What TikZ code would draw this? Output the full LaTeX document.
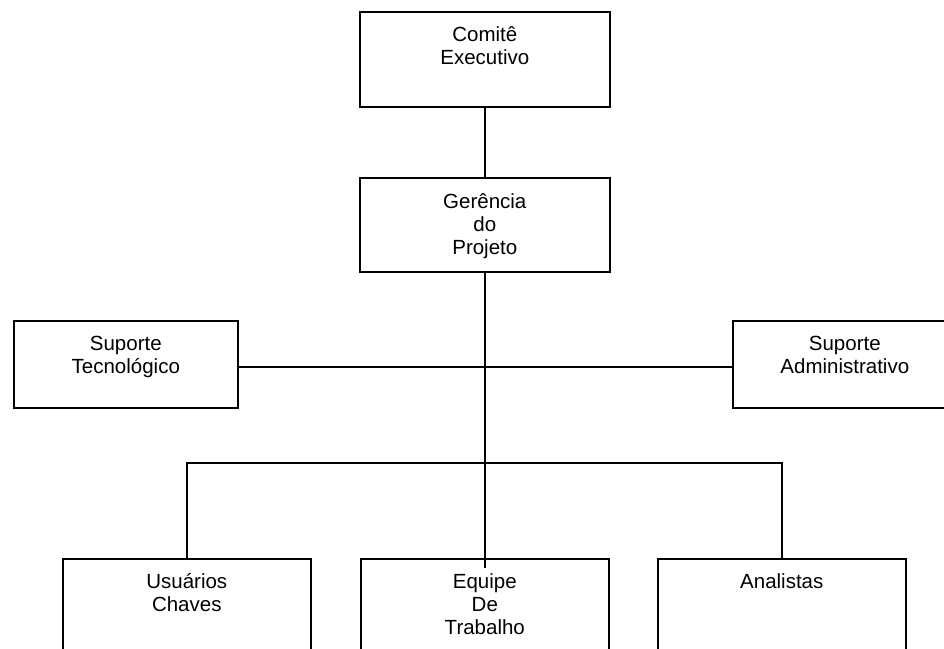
\documentclass[tikz,border=0pt]{standalone}
\usepackage{fontspec}
\setmainfont{Liberation Sans}
\begin{document}
\begin{tikzpicture}[x=1pt,y=-1pt,
  box/.style={draw=black,line width=1.6pt,inner sep=0pt,anchor=north west,rectangle},
  lbl/.style={align=center,anchor=base,inner sep=0pt,font=\fontsize{20.5}{23.3}\selectfont},
  conn/.style={draw=black,line width=1.6pt}]
\useasboundingbox (0,0) rectangle (944,648);
\clip (0,0) rectangle (944,648);
\node[box,minimum width=250pt,minimum height=95pt] (ce) at (359,11) {};
\node[box,minimum width=250pt,minimum height=94pt] (gp) at (359,177) {};
\node[box,minimum width=224pt,minimum height=87pt] (st) at (13,320) {};
\node[box,minimum width=224pt,minimum height=87pt] (sa) at (732,320) {};
\node[box,minimum width=248pt,minimum height=95pt] (uc) at (62,558) {};
\node[box,minimum width=248pt,minimum height=95pt] (et) at (360,558) {};
\node[box,minimum width=248pt,minimum height=95pt] (an) at (657,558) {};
\node[lbl] (tce) at ([yshift=-53.3pt]ce.north) {Comitê\\Executivo};
\node[lbl] (tgp) at ([yshift=-77.6pt]gp.north) {Gerência\\do\\Projeto};
\node[lbl] (tst) at ([yshift=-53.3pt]st.north) {Suporte\\Tecnológico};
\node[lbl] (tsa) at ([yshift=-53.3pt]sa.north) {Suporte\\Administrativo};
\node[lbl] (tuc) at ([yshift=-53.3pt]uc.north) {Usuários\\Chaves};
\node[lbl] (tet) at ([yshift=-76.6pt]et.north) {Equipe\\De\\Trabalho};
\node[lbl] (tan) at ([yshift=-30pt]an.north) {Analistas};
\coordinate (hy) at (0,367);
\coordinate (bus) at (484,463);
\draw[conn] (ce.south) -- (gp.north);
\draw[conn] (gp.south) -- ([yshift=-10pt]et.north);
\draw[conn] (st.east |- hy) -- (sa.west |- hy);
\draw[conn] (uc.north) |- (bus) -| (an.north);
\end{tikzpicture}
\end{document}
